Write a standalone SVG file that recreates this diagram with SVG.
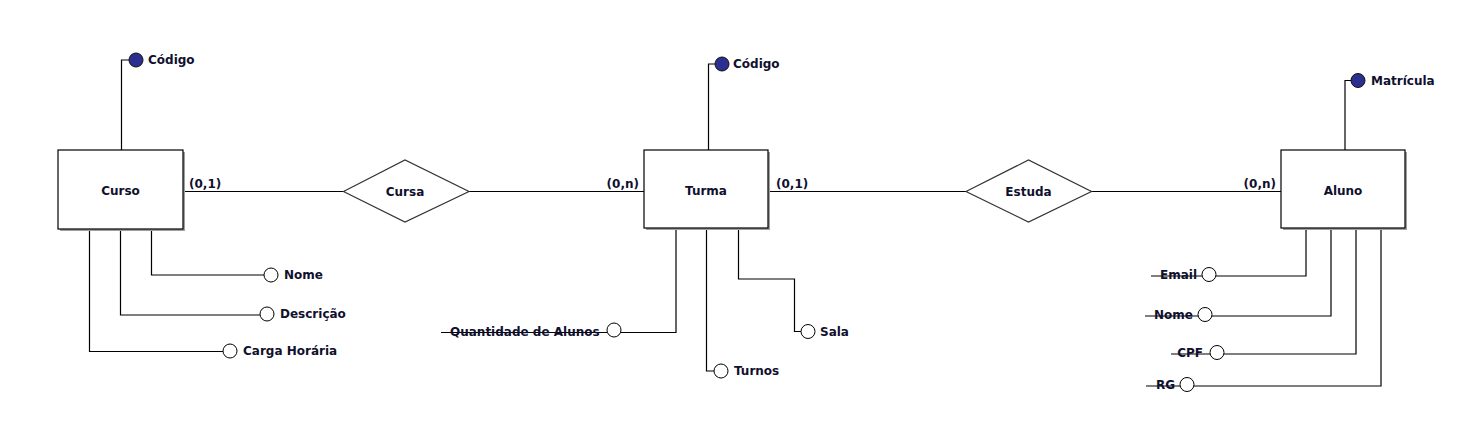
<svg xmlns="http://www.w3.org/2000/svg" width="1478" height="447" viewBox="0 0 1478 447">
<style>
text{font-family:"DejaVu Sans",Verdana,sans-serif;font-weight:bold;font-size:12px;fill:#10102e}
.lbl{text-anchor:middle}
.ln{fill:none;stroke:#000;stroke-width:1.2}
.box{fill:#fff;stroke:#000;stroke-width:1.2}
.sh{fill:#a0a0a0}
.dia{fill:#fff;stroke:#333;stroke-width:1.2}
.key{fill:#2d2f8f;stroke:#111;stroke-width:1}
.att{fill:#fff;stroke:#000;stroke-width:1}
</style>
<rect width="1478" height="447" fill="#fff"/>
<g id="connectors">
<path class="ln" d="M183 191.5H344"/>
<path class="ln" d="M469 191.5H645"/>
<path class="ln" d="M768 191.5H966"/>
<path class="ln" d="M1091 191.5H1281"/>
<path class="ln" d="M121.5 150V60H129"/>
<path class="ln" d="M151.5 229V275H264"/>
<path class="ln" d="M120.5 229V315H260"/>
<path class="ln" d="M89.5 229V351.5H223"/>
<path class="ln" d="M708.5 150V64H715"/>
<path class="ln" d="M676 229V332.5H441"/>
<path class="ln" d="M706.5 229V371H714"/>
<path class="ln" d="M738.5 229V279H794.5V331.5H801"/>
<path class="ln" d="M1345 150V80.5H1351"/>
<path class="ln" d="M1306 229V276H1151"/>
<path class="ln" d="M1331 229V316H1145"/>
<path class="ln" d="M1356 229V354H1171"/>
<path class="ln" d="M1381 229V386H1146"/>
<text x="189" y="188">(0,1)</text>
<text x="639" y="188" text-anchor="end">(0,n)</text>
<text x="776" y="188">(0,1)</text>
<text x="1276" y="188" text-anchor="end">(0,n)</text>
</g>
<g id="curso">
<rect class="sh" x="60" y="152" width="125" height="79"/>
<rect class="box" x="58" y="150" width="125" height="79"/>
<text class="lbl" x="120.5" y="195">Curso</text>
</g>
<g id="curso-codigo"><circle class="key" cx="136" cy="60" r="7"/><text x="148" y="64">Código</text></g>
<g id="curso-nome"><circle class="att" cx="271" cy="275" r="7"/><text x="284" y="279">Nome</text></g>
<g id="curso-descricao"><circle class="att" cx="267" cy="314" r="7"/><text x="280" y="318">Descrição</text></g>
<g id="curso-carga"><circle class="att" cx="230" cy="351" r="7"/><text x="243" y="355">Carga Horária</text></g>
<g id="cursa">
<polygon class="dia" points="343.5,191.5 405,160 469,191.5 405,222"/>
<text class="lbl" x="405" y="196">Cursa</text>
</g>
<g id="turma">
<rect class="sh" x="646" y="152" width="124" height="78"/>
<rect class="box" x="644" y="150" width="124" height="78"/>
<text class="lbl" x="706" y="195">Turma</text>
</g>
<g id="turma-codigo"><circle class="key" cx="722" cy="64" r="7"/><text x="733" y="68">Código</text></g>
<g id="turma-qtd"><text x="450" y="336">Quantidade de Alunos</text><circle class="att" cx="614" cy="330" r="7"/></g>
<g id="turma-turnos"><circle class="att" cx="721" cy="371" r="7"/><text x="734" y="375">Turnos</text></g>
<g id="turma-sala"><circle class="att" cx="808" cy="331.5" r="7"/><text x="820" y="336">Sala</text></g>
<g id="estuda">
<polygon class="dia" points="966,191.5 1028.5,160 1091.5,191.5 1028.5,222"/>
<text class="lbl" x="1028.5" y="196">Estuda</text>
</g>
<g id="aluno">
<rect class="sh" x="1283" y="152" width="124" height="78"/>
<rect class="box" x="1281" y="150" width="124" height="78"/>
<text class="lbl" x="1343" y="195">Aluno</text>
</g>
<g id="aluno-matricula"><circle class="key" cx="1358" cy="80.5" r="7"/><text x="1371" y="85">Matrícula</text></g>
<g id="aluno-email"><text x="1197" y="279" text-anchor="end">Email</text><circle class="att" cx="1209" cy="274.5" r="7"/></g>
<g id="aluno-nome"><text x="1193" y="319" text-anchor="end">Nome</text><circle class="att" cx="1205" cy="314.5" r="7"/></g>
<g id="aluno-cpf"><text x="1203" y="357" text-anchor="end">CPF</text><circle class="att" cx="1217" cy="352.5" r="7"/></g>
<g id="aluno-rg"><text x="1175" y="389" text-anchor="end">RG</text><circle class="att" cx="1187" cy="384.5" r="7"/></g>
</svg>
